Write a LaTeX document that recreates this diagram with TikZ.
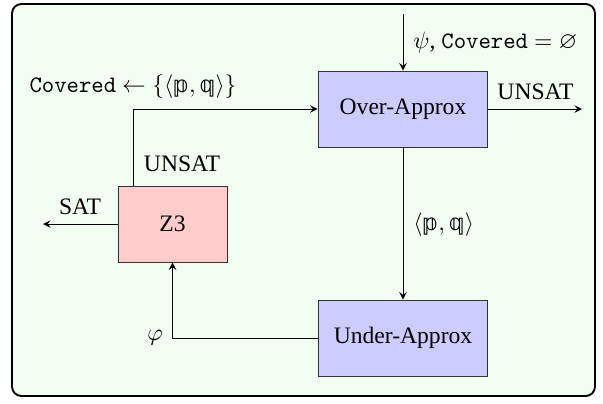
\documentclass[tikz,border=0pt]{standalone}
\usepackage{amssymb}
\usepackage{fontspec}
\setmainfont{Liberation Serif}
\newfontfamily\dvs{DejaVu Sans}
\newcommand{\bbp}{\mbox{\dvs\fontsize{9.5}{11}\selectfont 𝕡}}
\newcommand{\bbq}{\mbox{\dvs\fontsize{9.5}{11}\selectfont 𝕢}}
\definecolor{bgc}{RGB}{241,254,241}
\definecolor{bluec}{RGB}{204,204,255}
\definecolor{redc}{RGB}{255,204,204}
\tikzset{
  blk/.style={draw=black!80, minimum width=72pt, minimum height=32.2pt, inner sep=0pt, font=\fontsize{10}{12}\selectfont},
  lbl/.style={font=\fontsize{10}{12}\selectfont},
  conn/.style={-stealth}
}
\begin{document}
\begin{tikzpicture}[x=0.4237pt,y=-0.4237pt]
\useasboundingbox (0,0) rectangle (603,403);
\draw[thick, rounded corners=4pt, fill=bgc] (12,4) rectangle (595,396);
\node[blk, fill=bluec] (over) at (403,109) {Over-Approx};
\node[blk, fill=bluec] (under) at (403,338) {Under-Approx};
\node[blk, fill=redc, minimum width=46.2pt] (z3) at (172.5,224) {Z3};
\coordinate (in) at (403,14);
\coordinate (outR) at (582,109);
\coordinate (outL) at (43,224);
\draw[conn] (in) -- (over.north);
\draw[conn] (over.east) -- (outR);
\draw[conn] (over.south) -- (under.north);
\draw[conn] (z3.west) -- (outL);
\draw[conn] (under.west) -| (z3.south);
\draw[conn] ([xshift=6.8pt]z3.north west) |- (over.west);
\node[lbl, anchor=west] (l1) at (405,43) {$\psi$, \texttt{Covered} $=\varnothing$};
\node[lbl] (l2) at (133,87) {\texttt{Covered} $\leftarrow \{\langle \bbp, \bbq\rangle\}$};
\node[lbl] (l3) at (535.5,92) {UNSAT};
\node[lbl] (l4) at (182,164) {UNSAT};
\node[lbl] (l5) at (80,207) {SAT};
\node[lbl] (l6) at (155,338) {$\varphi$};
\node[lbl, anchor=west] (l7) at (405,225) {$\langle \bbp, \bbq\rangle$};
\end{tikzpicture}
\end{document}
